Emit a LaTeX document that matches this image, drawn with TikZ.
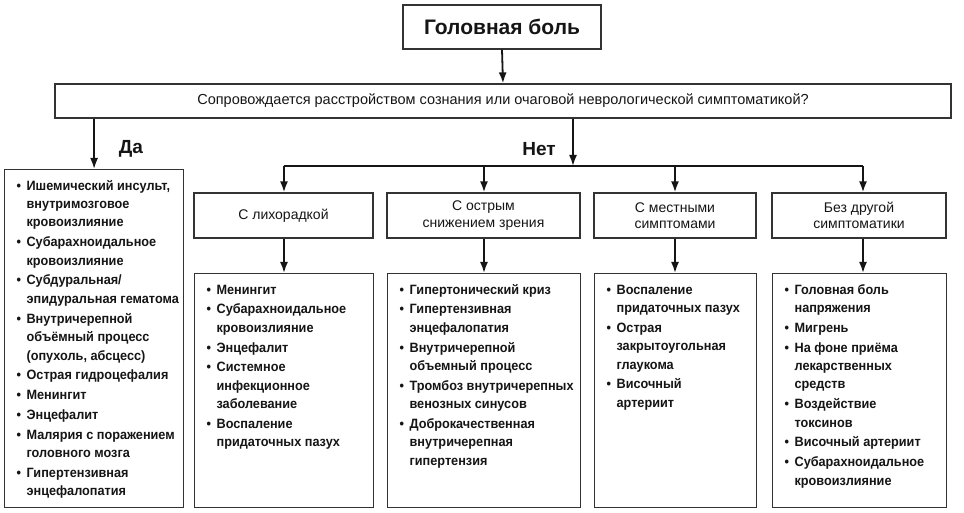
\documentclass[tikz,border=0pt]{standalone}
\usepackage{fontspec}
\setmainfont{Liberation Sans}
\newfontfamily\listfont[FakeStretch=0.94]{Liberation Sans}
\usetikzlibrary{arrows.meta}
\definecolor{ink}{HTML}{151515}
\definecolor{frame}{HTML}{333333}
\newcommand\fbl[1]{\noindent\hspace*{12pt}\makebox[10pt][l]{\textbullet}\mbox{\rule{0pt}{20.5pt}#1}}
\newcommand\bl[1]{\par\vspace{1.3pt}\noindent\hspace*{12pt}\makebox[10pt][l]{\textbullet}\mbox{#1}}
\newcommand\cl[1]{\par\noindent\hspace*{22pt}\mbox{#1}}
\newcommand\listbox[3]{\begin{minipage}[t][#2][t]{#1}\listfont\fontsize{13.5pt}{18.45pt}\selectfont\bfseries\parskip=0pt #3\par\vfill\end{minipage}}
\begin{document}
\begin{tikzpicture}[x=1pt,y=-1pt,
  box/.style={draw=frame,line width=1.2pt,text=ink,inner sep=0pt},
  catbox/.style={box,align=center,font=\fontsize{14pt}{16.5pt}\selectfont},
  arr/.style={draw=ink,line width=1.8pt,-{Latex[length=11pt,width=8pt]}},
  conn/.style={draw=ink,line width=1.8pt},
  lbl/.style={text=ink,font=\fontsize{19pt}{21pt}\selectfont\bfseries}]
\useasboundingbox (0,0) rectangle (964,513);
\fill[white] (0,0) rectangle (964,513);
% title and question
\node[box,minimum width=198pt,minimum height=44pt,font=\fontsize{21pt}{24pt}\selectfont\bfseries] (title) at (502,27) {Головная боль};
\node[box,minimum width=896pt,minimum height=34pt,font=\fontsize{14.5pt}{16pt}\selectfont] (q) at (503,101) {Сопровождается расстройством сознания или очаговой неврологической симптоматикой?};
\draw[arr] (title.south) -- (q.north);
% yes branch
\node[box,anchor=north west] (yes) at (4,169) {\listbox{179pt}{338pt}{%
\fbl{Ишемический инсульт,}
\cl{внутримозговое}
\cl{кровоизлияние}
\bl{Субарахноидальное}
\cl{кровоизлияние}
\bl{Субдуральная/}
\cl{эпидуральная гематома}
\bl{Внутричерепной}
\cl{объёмный процесс}
\cl{(опухоль, абсцесс)}
\bl{Острая гидроцефалия}
\bl{Менингит}
\bl{Энцефалит}
\bl{Малярия с поражением}
\cl{головного мозга}
\bl{Гипертензивная}
\cl{энцефалопатия}}};
\draw[arr] (q.south -| yes.north) -- (yes.north);
\node[lbl] (da) at (131,149) {Да};
% no branch
\coordinate (nj) at (573,166);
\coordinate (jA) at (284,166);
\coordinate (jB) at (484,166);
\coordinate (jC) at (675,166);
\coordinate (jD) at (863,166);
\draw[arr] (q.south -| nj) -- (nj);
\node[lbl] (net) at (539,149) {Нет};
\draw[conn] (jA) -- (jD);
% categories
\node[catbox,minimum width=179pt,minimum height=45pt] (catA) at (283.5,215.5) {С лихорадкой};
\node[catbox,minimum width=193pt,minimum height=45pt] (catB) at (483.5,215.5) {С острым\\снижением зрения};
\node[catbox,minimum width=162pt,minimum height=45pt] (catC) at (675,215.5) {С местными\\симптомами};
\node[catbox,minimum width=174pt,minimum height=45pt] (catD) at (859,215.5) {Без другой\\симптоматики};
\draw[arr] (jA) -- (jA |- catA.north);
\draw[arr] (jB) -- (jB |- catB.north);
\draw[arr] (jC) -- (jC |- catC.north);
\draw[arr] (jD) -- (jD |- catD.north);
% lists
\node[box,anchor=north west] (listA) at (194,273) {\listbox{179pt}{234pt}{%
\fbl{Менингит}
\bl{Субарахноидальное}
\cl{кровоизлияние}
\bl{Энцефалит}
\bl{Системное}
\cl{инфекционное}
\cl{заболевание}
\bl{Воспаление}
\cl{придаточных пазух}}};
\node[box,anchor=north west] (listB) at (387,273) {\listbox{193pt}{234pt}{%
\fbl{Гипертонический криз}
\bl{Гипертензивная}
\cl{энцефалопатия}
\bl{Внутричерепной}
\cl{объемный процесс}
\bl{Тромбоз внутричерепных}
\cl{венозных синусов}
\bl{Доброкачественная}
\cl{внутричерепная}
\cl{гипертензия}}};
\node[box,anchor=north west] (listC) at (594,273) {\listbox{162pt}{234pt}{%
\fbl{Воспаление}
\cl{придаточных пазух}
\bl{Острая}
\cl{закрытоугольная}
\cl{глаукома}
\bl{Височный}
\cl{артериит}}};
\node[box,anchor=north west] (listD) at (772,273) {\listbox{174pt}{234pt}{%
\fbl{Головная боль}
\cl{напряжения}
\bl{Мигрень}
\bl{На фоне приёма}
\cl{лекарственных}
\cl{средств}
\bl{Воздействие}
\cl{токсинов}
\bl{Височный артериит}
\bl{Субарахноидальное}
\cl{кровоизлияние}}};
\draw[arr] (catA.south -| jA) -- (listA.north -| jA);
\draw[arr] (catB.south -| jB) -- (listB.north -| jB);
\draw[arr] (catC.south -| jC) -- (listC.north -| jC);
\draw[arr] (catD.south -| jD) -- (listD.north -| jD);
\end{tikzpicture}
\end{document}
